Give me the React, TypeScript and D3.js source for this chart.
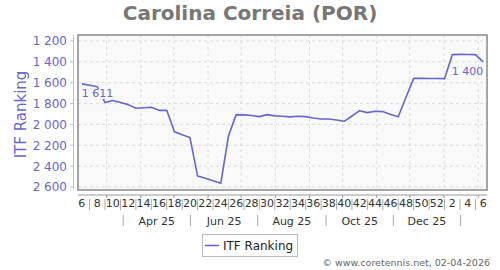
import React from "react";
import * as d3 from "d3";

const title = "Carolina Correia (POR)";
const seriesName = "ITF Ranking";
const firstWeekMonday = new Date(2025, 1, 3);
const rankings = [
  1611, 1625, 1638, 1790, 1770, 1790, 1810, 1845, 1840, 1835, 1865, 1865, 2070,
  2100, 2125, 2495, 2517, 2540, 2565, 2110, 1906, 1908, 1915, 1925, 1906, 1918,
  1922, 1928, 1922, 1925, 1938, 1948, 1948, 1958, 1970, 1919, 1868, 1887, 1874,
  1877, 1905, 1926, 1740, 1558, 1558, 1560, 1560, 1561, 1331, 1328, 1330, 1331,
  1400,
];
const weekNumbers = rankings.map((_, i) => ((6 + i - 1) % 52) + 1);
const yTicks = [1200, 1400, 1600, 1800, 2000, 2200, 2400, 2600];
const monthLabels = ["Apr 25", "Jun 25", "Aug 25", "Oct 25", "Dec 25"];
const monthSeparators = [
  new Date(2025, 2, 16),
  new Date(2025, 4, 16),
  new Date(2025, 6, 16),
  new Date(2025, 8, 16),
  new Date(2025, 10, 16),
  new Date(2026, 0, 16),
];
const copyright = "© www.coretennis.net, 02-04-2026";

const BLUE = "#6666cc";
const FONT = "DejaVu Sans, sans-serif";

const fmt = (v: number) => d3.format(",")(v).replace(/,/g, " ");

export default function App() {
  const left = 78, right = 487, top = 35, bottom = 190;
  const dayMs = 86400000;
  const dates = rankings.map(
    (_, i) => new Date(firstWeekMonday.getTime() + (i * 7 + 3.5) * dayMs)
  );
  const x = d3
    .scaleTime()
    .domain([new Date(2025, 1, 3), new Date(2026, 1, 9)])
    .range([left, right]);
  const y = d3.scaleLinear().domain([1142.5, 2628.8]).range([top, bottom]);
  const line = d3
    .line<number>()
    .x((_, i) => x(dates[i]))
    .y((d) => y(d));
  const months = d3.timeMonth.range(new Date(2025, 2, 1), new Date(2026, 1, 2));
  const n = rankings.length;
  const firstX = x(dates[0]);
  const lastX = x(dates[n - 1]);
  const firstLabel = fmt(rankings[0]);
  const lastLabel = fmt(rankings[n - 1]);
  const axisY = 195;

  return (
    <svg
      width={500}
      height={270}
      style={{ position: "absolute", left: 0, top: 0, background: "#fff" }}
      fontFamily={FONT}
    >
      <text x={250} y={20} textAnchor="middle" fontSize={20} fontWeight="bold" fill="#777">
        {title}
      </text>
      {/* plot background */}
      <rect x={left} y={top} width={right - left} height={bottom - top} fill="#f9f9f9" />
      {yTicks.map((t) => (
        <line key={"gy" + t} x1={left} x2={right} y1={y(t)} y2={y(t)} stroke="#dcdcdc" strokeDasharray="3,3" />
      ))}
      {months.map((m) => (
        <line key={"gx" + m.getTime()} x1={x(m)} x2={x(m)} y1={top} y2={bottom} stroke="#dcdcdc" strokeDasharray="3,3" />
      ))}
      <path d={line(rankings) || ""} fill="none" stroke={BLUE} strokeWidth={1.6} strokeLinejoin="round" />
      {/* value labels */}
      <rect x={firstX} y={y(rankings[0]) + 5} width={27} height={10} fill="#f9f9f9" />
      <text x={firstX} y={y(rankings[0]) + 13.5} fontSize={11} fill={BLUE}>
        {firstLabel}
      </text>
      <text x={lastX} y={y(rankings[n - 1]) + 13.5} fontSize={11} fill={BLUE} textAnchor="end">
        {lastLabel}
      </text>
      <rect x={left} y={top} width={right - left} height={bottom - top} fill="none" stroke="#888" strokeWidth={1.5} />
      {/* y axis */}
      <line x1={73.5} x2={73.5} y1={top} y2={bottom} stroke="#bbbbe6" />
      {yTicks.map((t) => (
        <g key={"ty" + t}>
          <line x1={70} x2={73.5} y1={y(t)} y2={y(t)} stroke="#bbbbe6" />
          <text x={67} y={y(t) + 4.5} textAnchor="end" fontSize={12} fill={BLUE}>
            {fmt(t)}
          </text>
        </g>
      ))}
      <text
        transform={`translate(26,${(top + bottom) / 2 + 2}) rotate(-90)`}
        textAnchor="middle"
        fontSize={15}
        fill={BLUE}
      >
        {seriesName}
      </text>
      {/* x axis */}
      <line x1={left} x2={right} y1={axisY} y2={axisY} stroke="#999" />
      {months.map((m) => (
        <line key={"tx" + m.getTime()} x1={x(m)} x2={x(m)} y1={axisY} y2={axisY + 3} stroke="#999" />
      ))}
      {dates.map((d, i) =>
        i % 2 === 0 ? (
          <text key={"wl" + i} x={x(d)} y={207} textAnchor="middle" fontSize={11} fill="#333">
            {weekNumbers[i]}
          </text>
        ) : (
          <line key={"ws" + i} x1={x(d)} x2={x(d)} y1={199} y2={210} stroke="#aaa" />
        )
      )}
      {monthSeparators.map((d, i) => (
        <line key={"ms" + i} x1={x(d)} x2={x(d)} y1={215} y2={226} stroke="#aaa" />
      ))}
      {monthLabels.map((lab, i) => (
        <text
          key={"ml" + i}
          x={(x(monthSeparators[i]) + x(monthSeparators[i + 1])) / 2}
          y={225}
          textAnchor="middle"
          fontSize={11}
          fill="#333"
        >
          {lab}
        </text>
      ))}
      {/* legend */}
      <rect x={202.5} y={234.5} width={95} height={22} fill="#fff" stroke="#bbb" />
      <line x1={205} x2={219} y1={245.5} y2={245.5} stroke={BLUE} strokeWidth={1.6} />
      <text x={223} y={250} fontSize={12} fill="#222">
        {seriesName}
      </text>
      <text x={490} y={266} textAnchor="end" fontSize={9.5} fill="#666">
        {copyright}
      </text>
    </svg>
  );
}
